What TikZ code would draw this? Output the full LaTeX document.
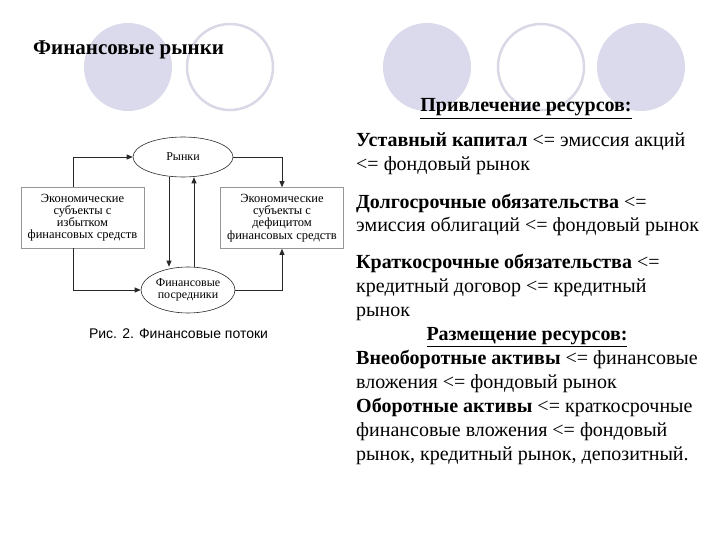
\documentclass[tikz,border=0pt]{standalone}
\usepackage{fontspec}
\setmainfont{Liberation Serif}
\newfontfamily\capfont{Liberation Sans}
\usepackage{tikz}
\usetikzlibrary{shapes.geometric,arrows.meta}
\definecolor{RingFill}{RGB}{218,218,236}
\definecolor{RingLine}{RGB}{216,216,230}
\definecolor{FlowLine}{RGB}{40,40,40}
\definecolor{BoxLine}{RGB}{150,150,150}

\begin{document}
\begin{tikzpicture}[x=1pt,y=-1pt,
  dot/.style={circle,fill=RingFill,minimum size=88pt,inner sep=0pt},
  ring/.style={circle,draw=RingLine,line width=2.5pt,minimum size=86pt,inner sep=0pt},
  oval/.style={ellipse,draw=FlowLine,line width=0.6pt,minimum width=#1,minimum height=40pt,inner sep=0pt,align=center,font=\fontsize{12}{12.5}\selectfont},
  fbox/.style={rectangle,draw=BoxLine,line width=0.6pt,minimum width=123pt,minimum height=61pt,inner sep=0pt,align=center,font=\fontsize{12.5}{12.2}\selectfont},
  flow/.style={draw=FlowLine,line width=0.8pt,-{Triangle[length=6pt,width=5pt]}},
  txt/.style={anchor=base west,inner sep=0pt,align=left,font=\fontsize{20}{24}\selectfont},
  head/.style={anchor=base,inner sep=0pt,font=\fontsize{20}{24}\selectfont\bfseries}]
\useasboundingbox (0,0) rectangle (720,540);
\node[dot] (c0) at (128,67) {};
\node[ring] (c1) at (230,67) {};
\node[dot] (c2) at (427,67) {};
\node[ring] (c3) at (541,67) {};
\node[dot] (c4) at (641,67) {};
\node[anchor=base west,inner sep=0pt,font=\fontsize{21}{24}\selectfont\bfseries] (ttl) at (33,55) {Финансовые рынки};
\node[head] (h1) at (526,112) {\underline{Привлечение ресурсов:}};
%
\node[oval=100pt] (mkt) at (183,157) {Рынки};
\node[oval=94pt,minimum height=46pt] (mid) at (188,290) {Финансовые\\посредники};
\node[fbox] (srp) at (82.5,217.5) {Экономические\\субъекты с\\избытком\\финансовых средств};
\node[fbox] (dfc) at (282,218) {Экономические\\субъекты с\\дефицитом\\финансовых средств};
\coordinate (lx) at (73,0);
\coordinate (dn) at (169,0);
\coordinate (up) at (194,0);
\draw[flow] (lx |- srp.north) -- (lx |- mkt.west) -- (mkt.west);
\draw[flow] (mkt.east) -| (dfc.north);
\draw[flow] (dn |- mkt.south) -- (dn |- mid.north);
\draw[flow] (up |- mid.north) -- (up |- mkt.south);
\draw[flow] (lx |- srp.south) |- (mid.west);
\draw[flow] (mid.east) -| (dfc.south);
\node[anchor=base,inner sep=0pt,font=\capfont\fontsize{14}{16}\selectfont] (cap) at (178.5,338) {Рис. 2. Финансовые потоки};
%
\node[txt] (p1) at (356,171) {\textbf{Уставный капитал} <= эмиссия акций\\<= фондовый рынок};
\node[txt] (p2) at (356,232) {\textbf{Долгосрочные обязательства} <=\\эмиссия облигаций <= фондовый рынок};
\node[txt] (p3) at (356,316) {\textbf{Краткосрочные обязательства} <=\\кредитный договор <= кредитный\\рынок};
\node[head] (h2) at (527,340) {\underline{Размещение ресурсов:}};
\node[txt] (p4) at (356,388) {\textbf{Внеоборотные активы} <= финансовые\\вложения <= фондовый рынок};
\node[txt] (p5) at (356,460) {\textbf{Оборотные активы} <= краткосрочные\\финансовые вложения <= фондовый\\рынок, кредитный рынок, депозитный.};
\end{tikzpicture}
\end{document}
